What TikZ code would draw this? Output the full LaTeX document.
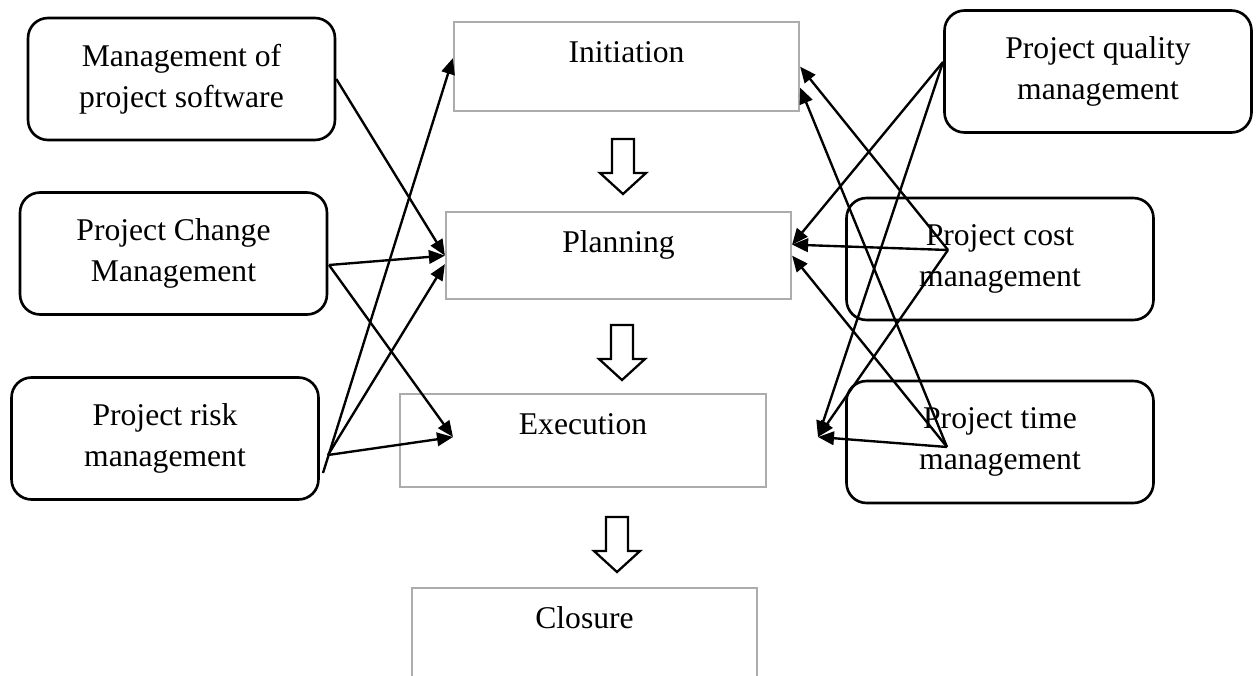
\documentclass[tikz,border=0pt]{standalone}
\usepackage{fontspec}
\setmainfont{Liberation Serif}
\usetikzlibrary{arrows.meta}
\begin{document}
\begin{tikzpicture}[x=0.02cm,y=-0.02cm,
every node/.style={font=\fontsize{18}{23.3}\selectfont},
stage/.style={draw=gray!65,line width=1.3pt,anchor=north,inner ysep=0pt,text height=0.8cm},
mgmt/.style={draw,line width=1.5pt,rounded corners=0.4cm,minimum width=6.14cm,minimum height=2.44cm,align=center},
feed/.style={line width=1.35pt,-{Triangle[length=0.32cm,width=0.27cm]}},
hollow/.pic={\draw[line width=1.3pt] (-11,0) -- (11,0) -- (11,34) -- (23,34) -- (0,55) -- (-23,34) -- (-11,34) -- cycle;}]
\clip (0,0) rectangle (1259,676);
\node[stage,minimum width=6.9cm,text depth=0.98cm] (INI) at (626.5,21) {Initiation};
\node[stage,minimum width=6.9cm,text depth=0.94cm] (PLA) at (618.5,211) {Planning};
\node[stage,minimum width=7.32cm,text depth=1.06cm] (EXE) at (583,393) {Execution};
\node[stage,minimum width=6.9cm,text depth=2cm] (CLO) at (584.5,587) {Closure};
\pic at (623,139) {hollow};
\pic at (622,325) {hollow};
\pic at (617,517) {hollow};
\node[mgmt] (SW) at (181.5,79) {Management of\\project software};
\node[mgmt] (CHG) at (173.5,253.5) {Project Change\\Management};
\node[mgmt] (RSK) at (165,438.5) {Project risk\\management};
\node[mgmt] (QUA) at (1098,71.5) {Project quality\\management};
\node[mgmt] (CST) at (1000,259) {Project cost\\management};
\node[mgmt] (TIM) at (1000,442) {Project time\\management};
\coordinate (CHGo) at (329,265);
\coordinate (RSKo) at (328,455);
\coordinate (RSKp) at (323,473);
\coordinate (EXEl) at (453,437);
\coordinate (QUAo) at (943,62);
\coordinate (CSTo) at (948,250);
\coordinate (TIMo) at (947,447);
\coordinate (EXEr) at (818,437);
\draw[feed] (SW.east) -- (PLA.west);
\draw[feed] (CHGo) -- (PLA.west);
\draw[feed] (CHGo) -- (EXEl);
\draw[feed] (RSKp) -- ([yshift=0.17cm]INI.west);
\draw[feed] (RSKo) -- ([yshift=-0.17cm]PLA.west);
\draw[feed] (RSKo) -- (EXEl);
\draw[feed] (QUAo) -- ([yshift=0.22cm]PLA.east);
\draw[feed] (QUAo) -- (EXEr);
\draw[feed] (CSTo) -- (INI.east);
\draw[feed] (CSTo) -- ([yshift=0.22cm]PLA.east);
\draw[feed] (CSTo) -- (EXEr);
\draw[feed] (TIMo) -- ([yshift=-0.42cm]INI.east);
\draw[feed] (TIMo) -- (PLA.east);
\draw[feed] (TIMo) -- (EXEr);
\end{tikzpicture}
\end{document}
